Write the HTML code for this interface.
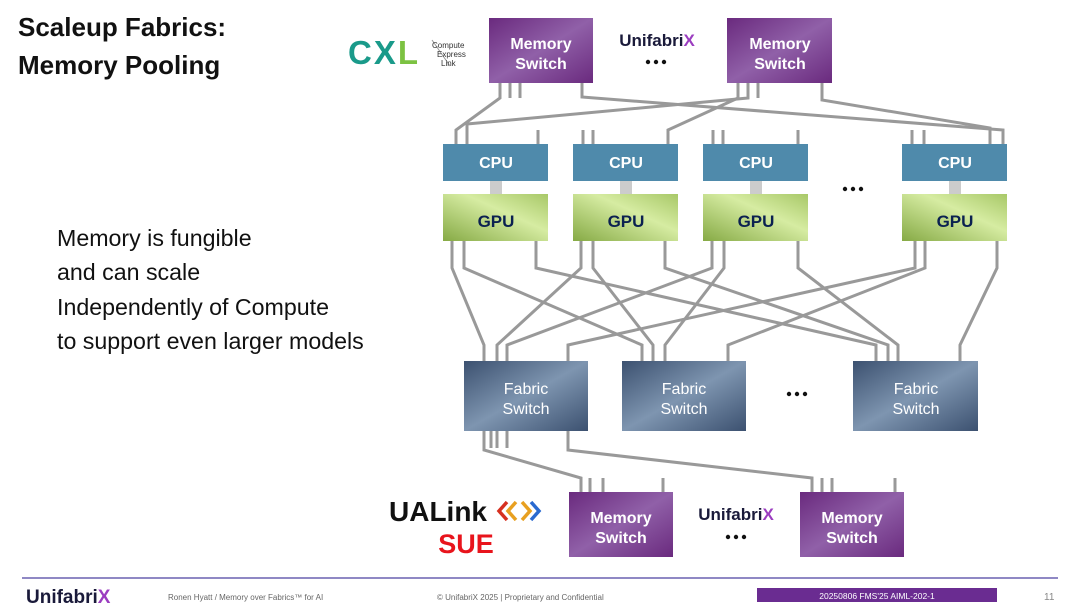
<!DOCTYPE html>
<html><head><meta charset="utf-8"><style>
body{margin:0;width:1080px;height:609px;background:#fff;overflow:hidden;font-family:"Liberation Sans",sans-serif;position:relative}
.t{position:absolute;left:18px;top:8px;font-size:26px;font-weight:bold;line-height:38px;color:#111}
.b{position:absolute;left:57px;top:221px;font-size:23.2px;line-height:34.4px;color:#111}
</style></head><body>
<div class="t">Scaleup Fabrics:<br>Memory Pooling</div>
<div class="b">Memory is fungible<br>and can scale<br>Independently of Compute<br>to support even larger models</div>
<svg width="1080" height="609" style="position:absolute;left:0;top:0">
<defs>
<linearGradient id="pu" x1="0" y1="0" x2="1" y2="1"><stop offset="0" stop-color="#6a2a7e"/><stop offset=".5" stop-color="#9060a8"/><stop offset="1" stop-color="#6a2a7e"/></linearGradient>
<linearGradient id="gr" x1="0" y1="1" x2="1" y2="0"><stop offset="0" stop-color="#86aa45"/><stop offset=".6" stop-color="#d6eca2"/><stop offset="1" stop-color="#a8c868"/></linearGradient>
<linearGradient id="fb" x1="0" y1="0" x2="1" y2="1"><stop offset="0" stop-color="#3c5170"/><stop offset=".5" stop-color="#7e95b0"/><stop offset="1" stop-color="#3c5170"/></linearGradient>
</defs>
<g fill="none" stroke="#999" stroke-width="3">
<polyline points="500,83 500,98 456,130 456,144"/>
<polyline points="510,83 510,98"/><polyline points="520,83 520,98"/>
<polyline points="582,83 582,97 1003,130 1003,144"/>
<polyline points="748,83 748,98 467,124 467,144"/>
<polyline points="738,83 738,98"/><polyline points="758,83 758,98"/>
<polyline points="738,83 738,98 668,130 668,144"/>
<polyline points="822,83 822,100 990,128 990,144"/>
<polyline points="583,144 583,130"/><polyline points="593,144 593,130"/>
<polyline points="538,144 538,130"/>
<polyline points="713,144 713,130"/><polyline points="723,144 723,130"/><polyline points="798,144 798,130"/>
<polyline points="912,144 912,130"/><polyline points="924,144 924,130"/>
<polyline points="452,241 452,268 484,345 484,361"/>
<polyline points="464,241 464,268 642,345 642,361"/>
<polyline points="536,241 536,268 876,345 876,361"/>
<polyline points="581,241 581,268 497,345 497,361"/>
<polyline points="593,241 593,268 653,345 653,361"/>
<polyline points="665,241 665,268 888,345 888,361"/>
<polyline points="712,241 712,268 507,345 507,361"/>
<polyline points="724,241 724,268 665,345 665,361"/>
<polyline points="798,241 798,268 898,345 898,361"/>
<polyline points="915,241 915,268 568,345 568,361"/>
<polyline points="925,241 925,268 728,345 728,361"/>
<polyline points="997,241 997,268 960,345 960,361"/>
<polyline points="484,431 484,450 581,478 581,492"/>
<polyline points="491,431 491,448"/><polyline points="497,431 497,448"/><polyline points="507,431 507,448"/>
<polyline points="568,431 568,450 812,478 812,492"/>
<polyline points="590,492 590,478"/><polyline points="603,492 603,478"/><polyline points="663,492 663,478"/>
<polyline points="822,492 822,478"/><polyline points="832,492 832,478"/><polyline points="895,492 895,478"/>
</g>
<g stroke="#ccc" stroke-width="12"><line x1="496" y1="181" x2="496" y2="194"/><line x1="626" y1="181" x2="626" y2="194"/><line x1="756" y1="181" x2="756" y2="194"/><line x1="955" y1="181" x2="955" y2="194"/></g>
<g font-family="Liberation Sans,sans-serif" font-weight="bold" text-anchor="middle">
<rect x="489" y="18" width="104" height="65" fill="url(#pu)"/><text x="541" y="49" fill="#fff" font-size="16">Memory</text><text x="541" y="69" fill="#fff" font-size="16">Switch</text>
<rect x="727" y="18" width="105" height="65" fill="url(#pu)"/><text x="780" y="49" fill="#fff" font-size="16">Memory</text><text x="780" y="69" fill="#fff" font-size="16">Switch</text>
<g fill="#4f8aab"><rect x="443" y="144" width="105" height="37"/><rect x="573" y="144" width="105" height="37"/><rect x="703" y="144" width="105" height="37"/><rect x="902" y="144" width="105" height="37"/></g>
<g fill="#fff" font-size="16"><text x="496" y="168">CPU</text><text x="626" y="168">CPU</text><text x="756" y="168">CPU</text><text x="955" y="168">CPU</text></g>
<g fill="url(#gr)"><rect x="443" y="194" width="105" height="47"/><rect x="573" y="194" width="105" height="47"/><rect x="703" y="194" width="105" height="47"/><rect x="902" y="194" width="105" height="47"/></g>
<g fill="#0b2150" font-size="17"><text x="496" y="227">GPU</text><text x="626" y="227">GPU</text><text x="756" y="227">GPU</text><text x="955" y="227">GPU</text></g>
<g fill="url(#fb)"><rect x="464" y="361" width="124" height="70"/><rect x="622" y="361" width="124" height="70"/><rect x="853" y="361" width="125" height="70"/></g>
<g fill="#fff" font-size="16" font-weight="normal"><text x="526" y="394">Fabric</text><text x="526" y="414">Switch</text><text x="684" y="394">Fabric</text><text x="684" y="414">Switch</text><text x="916" y="394">Fabric</text><text x="916" y="414">Switch</text></g>
<rect x="569" y="492" width="104" height="65" fill="url(#pu)"/><text x="621" y="523" fill="#fff" font-size="16">Memory</text><text x="621" y="543" fill="#fff" font-size="16">Switch</text>
<rect x="800" y="492" width="104" height="65" fill="url(#pu)"/><text x="852" y="523" fill="#fff" font-size="16">Memory</text><text x="852" y="543" fill="#fff" font-size="16">Switch</text>
<g fill="#111"><circle cx="845" cy="189" r="2.2"/><circle cx="853" cy="189" r="2.2"/><circle cx="861" cy="189" r="2.2"/>
<circle cx="789" cy="394" r="2.2"/><circle cx="797" cy="394" r="2.2"/><circle cx="805" cy="394" r="2.2"/>
<circle cx="648" cy="62" r="2.2"/><circle cx="656" cy="62" r="2.2"/><circle cx="664" cy="62" r="2.2"/>
<circle cx="728" cy="537" r="2.2"/><circle cx="736" cy="537" r="2.2"/><circle cx="744" cy="537" r="2.2"/></g>
<text x="348" y="64" fill="#1a9a8a" font-size="33" font-weight="900" text-anchor="start" letter-spacing="2">CX<tspan fill="#7cc242">L</tspan></text>
<line x1="432" y1="40" x2="450" y2="66" stroke="#999" stroke-width="1"/>
<text x="432" y="48" fill="#333" font-size="8" font-weight="normal" text-anchor="start">Compute</text><text x="437" y="57" fill="#333" font-size="8" font-weight="normal" text-anchor="start">Express</text><text x="441" y="66" fill="#333" font-size="8" font-weight="normal" text-anchor="start">Link</text>
<text x="657" y="46" fill="#1a1a3a" font-size="17">Unifabri<tspan fill="#9b3dc0">X</tspan></text>
<text x="736" y="520" fill="#1a1a3a" font-size="17">Unifabri<tspan fill="#9b3dc0">X</tspan></text>
<text x="389" y="521" fill="#111" font-size="28" font-weight="bold" text-anchor="start">UALink</text>
<g fill="none" stroke-width="3.5"><polyline points="507,502 499,511 507,520" stroke="#d63020"/><polyline points="516,502 508,511 516,520" stroke="#e8a020"/><polyline points="522,502 530,511 522,520" stroke="#e8a020"/><polyline points="531,502 539,511 531,520" stroke="#2a6ad0"/></g>
<text x="466" y="553" fill="#e8141c" font-size="27">SUE</text>
</g>
<line x1="22" y1="578" x2="1058" y2="578" stroke="#6a60b0" stroke-width="1.5"/>
<text x="26" y="603" font-family="Liberation Sans,sans-serif" font-weight="bold" font-size="19" fill="#1a1a3a">Unifabri<tspan fill="#9b3dc0">X</tspan></text>
<text x="168" y="600" font-family="Liberation Sans,sans-serif" font-size="8" fill="#666">Ronen Hyatt / Memory over Fabrics™ for AI</text>
<text x="437" y="600" font-family="Liberation Sans,sans-serif" font-size="8" fill="#666">© UnifabriX 2025 | Proprietary and Confidential</text>
<rect x="757" y="588" width="240" height="14" fill="#6a2c91"/>
<text x="877" y="599" text-anchor="middle" font-family="Liberation Sans,sans-serif" font-size="8.5" fill="#fff">20250806 FMS'25 AIML-202-1</text>
<text x="1044" y="600" font-family="Liberation Sans,sans-serif" font-size="10" fill="#888">11</text>
</svg>
</body></html>
